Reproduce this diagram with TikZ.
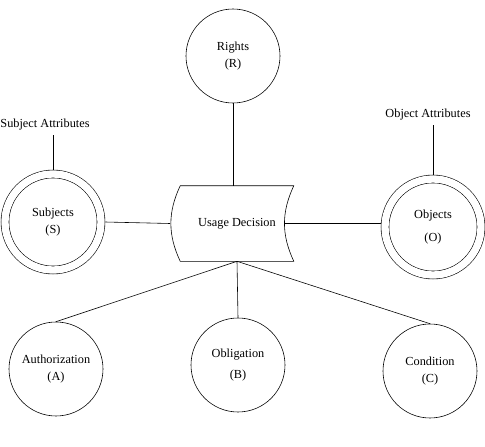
\documentclass[tikz,border=0pt]{standalone}
\usepackage{fontspec}
\setmainfont{Liberation Serif}
\begin{document}
\begin{tikzpicture}[every node/.style={font=\fontsize{10.5}{14}\selectfont}, line width=0.5pt]
  \tikzstyle{elem}=[circle, draw, minimum size=2.82cm, align=center, inner sep=0pt]
  \tikzstyle{dblelem}=[circle, draw, double, double distance=0.22cm, minimum size=2.88cm,
                       outer sep=0.13cm, align=center, inner sep=0pt]
  \useasboundingbox (0,0) rectangle (14.55,13.38);

  \node[elem] (rights) at (6.99,11.70) {Rights\\(R)};
  \node[minimum width=3.39cm, minimum height=2.25cm, inner sep=0pt] (ud) at (7.11,6.675) {Usage Decision};
  \draw (ud.north west) -- (ud.north east) to[bend right=25] (ud.south east)
        -- (ud.south west) to[bend left=25] (ud.north west);
  \coordinate (udl) at ([xshift=-0.3cm]ud.west);
  \coordinate (udr) at ([xshift=-0.27cm]ud.east);

  \node[dblelem] (subj) at (1.59,6.72) {Subjects\\(S)};
  \node[dblelem] (obj) at (12.99,6.57) {Objects\\[0.2cm](O)};
  \node (sattr) at (1.35,9.63) {Subject Attributes};
  \node (oattr) at (12.84,9.93) {Object Attributes};

  \node[elem] (auth) at (1.68,2.31) {Authorization\\(A)};
  \node[elem] (obl) at (7.14,2.43) {Obligation\\[0.15cm](B)};
  \node[elem] (cond) at (12.9,2.25) {Condition\\(C)};

  \draw (rights.south) -- (rights.south |- ud.north);
  \draw (subj.east) -- (udl);
  \draw (udr) -- (udr -| obj.west);
  \draw (subj.north) -- (subj.north |- sattr.south);
  \draw (obj.north) -- (obj.north |- oattr.south);
  \draw (ud.south) -- (auth.north);
  \draw (ud.south) -- (obl.north);
  \draw (ud.south) -- (cond.north);
\end{tikzpicture}
\end{document}
